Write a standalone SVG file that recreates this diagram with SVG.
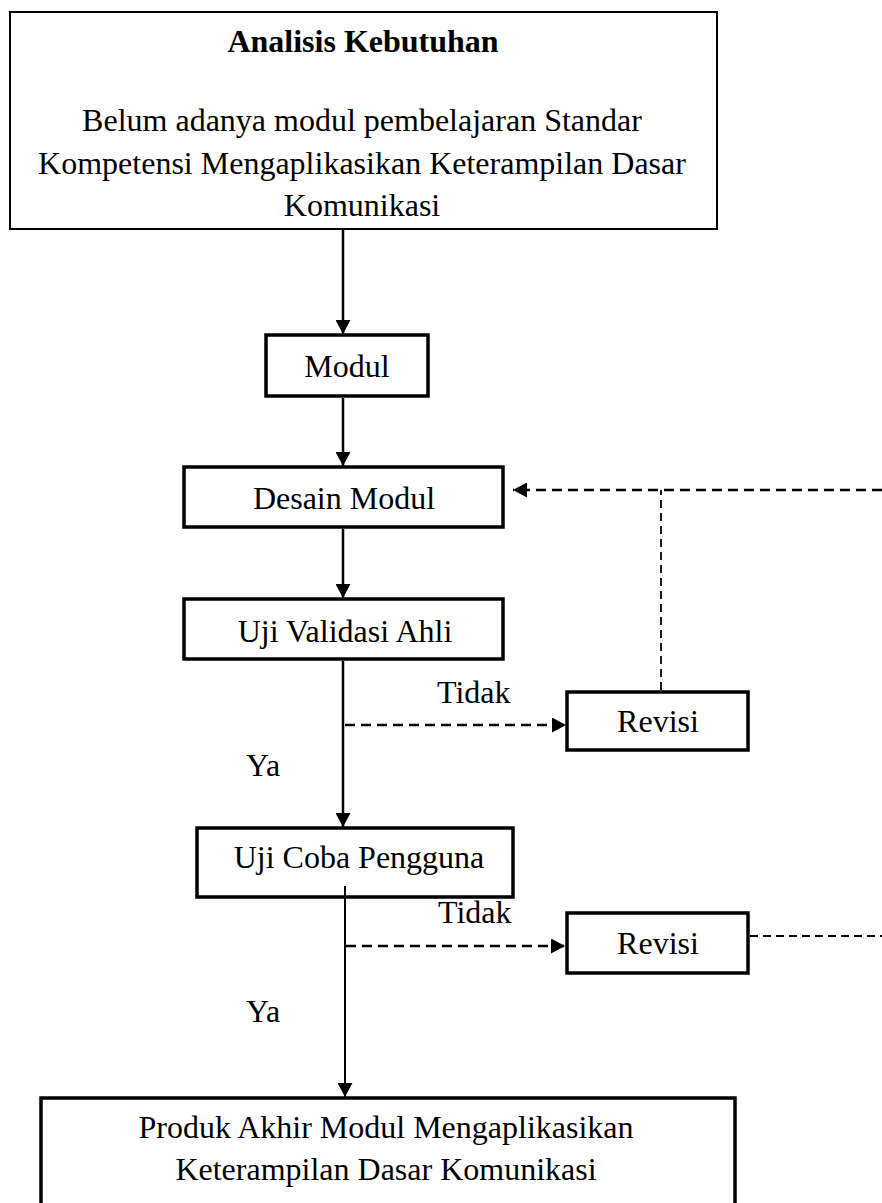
<svg xmlns="http://www.w3.org/2000/svg" width="882" height="1203" viewBox="0 0 882 1203">
<style>
text{font-family:"Liberation Serif","Times New Roman",serif;font-size:32px;fill:#000}
.c{text-anchor:middle}
.b{font-weight:bold}
.box{fill:#fff;stroke:#000;stroke-width:3.5}
.thin{fill:#fff;stroke:#000;stroke-width:2}
.ln{fill:none;stroke:#000;stroke-width:2.5}
.ln2{fill:none;stroke:#000;stroke-width:2}
.d1{fill:none;stroke:#000;stroke-width:2.5;stroke-dasharray:10 6}
.d2{fill:none;stroke:#000;stroke-width:1.8;stroke-dasharray:8 5}
</style>
<defs>
<marker id="ah" markerUnits="userSpaceOnUse" markerWidth="15" markerHeight="15" refX="14" refY="7.5" orient="auto">
<path d="M0,0 L14,7.5 L0,15 Z" fill="#000"/>
</marker>
</defs>
<g id="analisis">
<rect class="thin" x="10" y="12" width="707" height="217"/>
<text class="c b" x="363" y="52">Analisis Kebutuhan</text>
<text class="c" x="362" y="131">Belum adanya modul pembelajaran Standar</text>
<text class="c" x="362" y="174">Kompetensi Mengaplikasikan Keterampilan Dasar</text>
<text class="c" x="362" y="216">Komunikasi</text>
</g>
<g id="modul">
<rect class="box" x="266" y="335" width="162" height="61"/>
<text class="c" x="347" y="377">Modul</text>
</g>
<g id="desain">
<rect class="box" x="184" y="467" width="319" height="60"/>
<text class="c" x="344" y="509">Desain Modul</text>
</g>
<g id="validasi">
<rect class="box" x="184" y="599" width="319" height="60"/>
<text class="c" x="345" y="642">Uji Validasi Ahli</text>
</g>
<g id="revisi1">
<rect class="box" x="567" y="692" width="181" height="58"/>
<text class="c" x="658" y="732">Revisi</text>
</g>
<g id="coba">
<rect class="box" x="197" y="828" width="316" height="69"/>
<text class="c" x="359" y="868">Uji Coba Pengguna</text>
</g>
<g id="revisi2">
<rect class="box" x="567" y="913" width="181" height="60"/>
<text class="c" x="658" y="954">Revisi</text>
</g>
<g id="produk">
<rect class="box" x="41" y="1098" width="694" height="120"/>
<text class="c" x="386" y="1138">Produk Akhir Modul Mengaplikasikan</text>
<text class="c" x="386" y="1180">Keterampilan Dasar Komunikasi</text>
</g>
<g id="labels">
<text x="437" y="703">Tidak</text>
<text x="246" y="776">Ya</text>
<text x="438" y="923">Tidak</text>
<text x="246" y="1022">Ya</text>
</g>
<g id="connectors">
<line class="ln" x1="343" y1="230" x2="343" y2="334" marker-end="url(#ah)"/>
<line class="ln" x1="343" y1="398" x2="343" y2="466" marker-end="url(#ah)"/>
<line class="ln" x1="343" y1="529" x2="343" y2="598" marker-end="url(#ah)"/>
<line class="ln" x1="343" y1="661" x2="343" y2="827" marker-end="url(#ah)"/>
<line class="d1" x1="345" y1="725" x2="566" y2="725" marker-end="url(#ah)"/>
<line class="d2" x1="661" y1="690" x2="661" y2="490"/>
<line class="d1" x1="882" y1="490" x2="513" y2="490" marker-end="url(#ah)"/>
<line class="ln2" x1="345" y1="886" x2="345" y2="1097" marker-end="url(#ah)"/>
<line class="d1" x1="346" y1="946" x2="565" y2="946" marker-end="url(#ah)"/>
<line class="d2" x1="750" y1="936" x2="882" y2="936"/>
</g>
</svg>
